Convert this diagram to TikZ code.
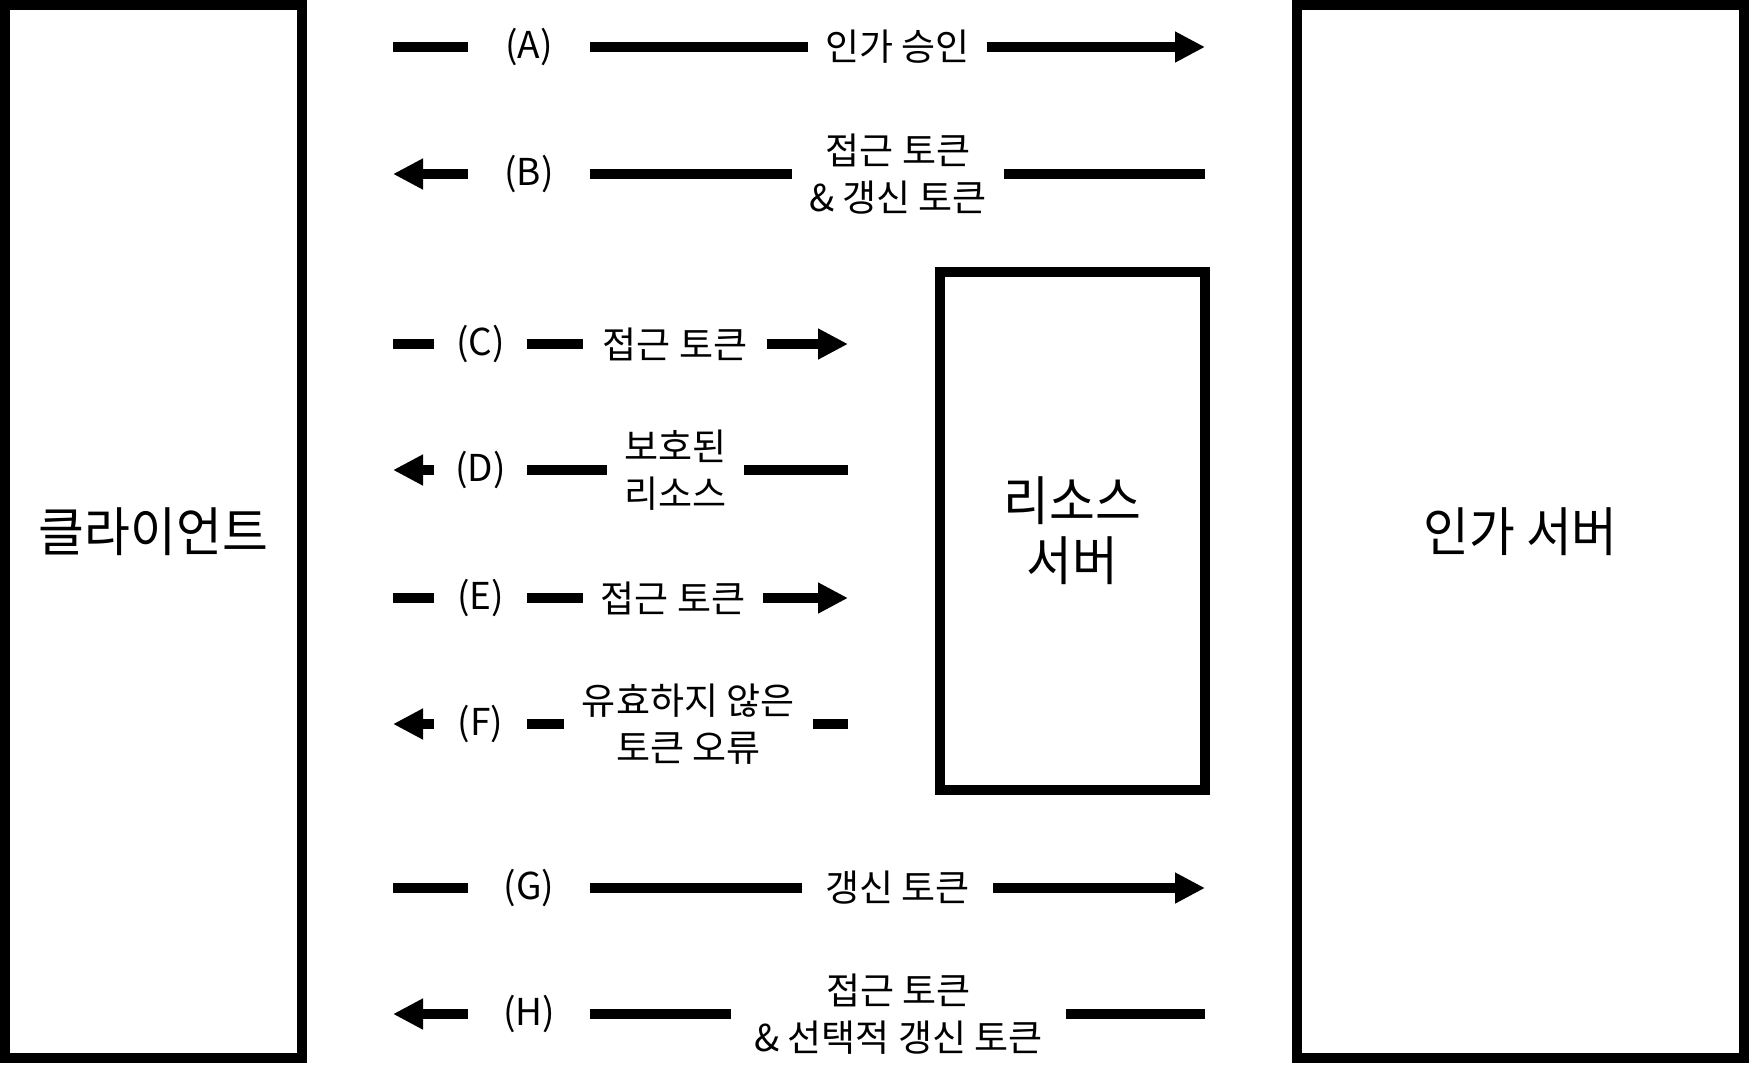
\documentclass[tikz,border=0pt]{standalone}
\usepackage{fontspec}
\usetikzlibrary{arrows.meta}
\newfontfamily\krbig[FakeStretch=0.94]{Noto Sans CJK KR}
\newfontfamily\krsmall[FakeStretch=1.0]{Noto Sans CJK KR}
\begin{document}
\begin{tikzpicture}[x=0.5pt,y=-0.5pt,
  box/.style={draw, line width=5pt, inner sep=0pt, align=center,
    font=\krbig\fontsize{26.5pt}{30pt}\selectfont},
  lab/.style={inner sep=0pt, align=center,
    font=\krsmall\fontsize{18.5pt}{23.25pt}\selectfont},
  seg/.style={line width=5.25pt},
  tip/.style={seg, -{Triangle[length=15pt,width=14.5pt]}},
  pit/.style={seg, {Triangle[length=15pt,width=14.5pt]}-}
]
\useasboundingbox (0,0) rectangle (1749,1083);

% boxes
\node[box, minimum width=148.5pt, minimum height=526.5pt] (client) at (153.5,531.5) {클라이언트};
\node[box, minimum width=223.5pt, minimum height=526.5pt] (auth) at (1520.5,531.5) {인가 서버};
\node[box, minimum width=132.5pt, minimum height=259pt] (res) at (1072.5,531) {리소스\\서버};

% row A
\coordinate (a0) at (393,47); \coordinate (a9) at (1205,47);
\node[lab, minimum width=61pt] (a1) at (529,47) {(A)};
\node[lab, minimum width=89.5pt] (a2) at (897.5,47) {인가 승인};
\draw[seg] (a0) -- (a1.west);
\draw[seg] (a1.east) -- (a2.west);
\draw[tip] (a2.east) -- (a9);

% row B
\coordinate (b0) at (393,174); \coordinate (b9) at (1205,174);
\node[lab, minimum width=61pt] (b1) at (529,174) {(B)};
\node[lab, minimum width=106pt] (b2) at (898,174) {접근 토큰\\\& 갱신 토큰};
\draw[pit] (b0) -- (b1.west);
\draw[seg] (b1.east) -- (b2.west);
\draw[seg] (b2.east) -- (b9);

% row C
\coordinate (c0) at (393,344); \coordinate (c9) at (848,344);
\node[lab, minimum width=46.5pt] (c1) at (480.5,344) {(C)};
\node[lab, minimum width=92pt] (c2) at (675,344) {접근 토큰};
\draw[seg] (c0) -- (c1.west);
\draw[seg] (c1.east) -- (c2.west);
\draw[tip] (c2.east) -- (c9);

% row D
\coordinate (d0) at (393,470); \coordinate (d9) at (848,470);
\node[lab, minimum width=46.5pt] (d1) at (480.5,470) {(D)};
\node[lab, minimum width=68.25pt] (d2) at (675.25,470) {보호된\\리소스};
\draw[pit] (d0) -- (d1.west);
\draw[seg] (d1.east) -- (d2.west);
\draw[seg] (d2.east) -- (d9);

% row E
\coordinate (e0) at (393,598); \coordinate (e9) at (848,598);
\node[lab, minimum width=46.5pt] (e1) at (480.5,598) {(E)};
\node[lab, minimum width=90pt] (e2) at (673,598) {접근 토큰};
\draw[seg] (e0) -- (e1.west);
\draw[seg] (e1.east) -- (e2.west);
\draw[tip] (e2.east) -- (e9);

% row F
\coordinate (f0) at (393,724); \coordinate (f9) at (848,724);
\node[lab, minimum width=46.5pt] (f1) at (480.5,724) {(F)};
\node[lab, minimum width=124.25pt] (f2) at (688.25,724) {유효하지 않은\\토큰 오류};
\draw[pit] (f0) -- (f1.west);
\draw[seg] (f1.east) -- (f2.west);
\draw[seg] (f2.east) -- (f9);

% row G
\coordinate (g0) at (393,888); \coordinate (g9) at (1205,888);
\node[lab, minimum width=61pt] (g1) at (529,888) {(G)};
\node[lab, minimum width=95.25pt] (g2) at (897.75,888) {갱신 토큰};
\draw[seg] (g0) -- (g1.west);
\draw[seg] (g1.east) -- (g2.west);
\draw[tip] (g2.east) -- (g9);

% row H
\coordinate (h0) at (393,1014); \coordinate (h9) at (1205,1014);
\node[lab, minimum width=61pt] (h1) at (529,1014) {(H)};
\node[lab, minimum width=167.5pt] (h2) at (898.5,1014) {접근 토큰\\\& 선택적 갱신 토큰};
\draw[pit] (h0) -- (h1.west);
\draw[seg] (h1.east) -- (h2.west);
\draw[seg] (h2.east) -- (h9);
\end{tikzpicture}
\end{document}
